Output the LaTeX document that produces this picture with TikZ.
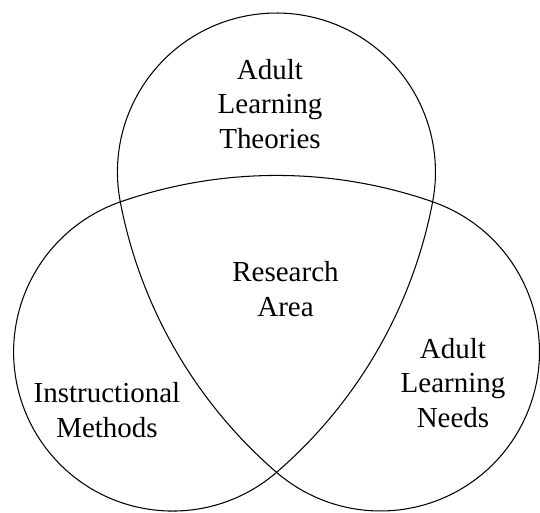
\documentclass[tikz,border=0pt]{standalone}
\usepackage{fontspec}
\setmainfont{Liberation Serif}
\begin{document}
\begin{tikzpicture}[x=0.02cm,y=0.02cm]
	\tikzstyle{lbl}=[align=center,inner sep=0pt,font=\fontsize{16.5pt}{19.85pt}\selectfont]
	\useasboundingbox (-276.5,-220) rectangle (263.5,292);

	% one lobe plus the connecting arc, turned three times round the middle
	\foreach \a in {0,120,240}
		\draw[rotate=\a,line width=0.6pt] (-156.2,90.15)
			arc[start angle=190.82,end angle=-10.82,radius=159]
			arc[start angle=-10.80,end angle=-49.20,radius=475.2];

	\node[lbl] (theory) at (-6.5,188) {Adult\\Learning\\Theories};
	\node[lbl] (area) at (9,3) {Research\\Area};
	\node[lbl] (needs) at (176.5,-91) {Adult\\Learning\\Needs};
	\node[lbl] (methods) at (-169.5,-118.5) {Instructional\\Methods};
\end{tikzpicture}
\end{document}
